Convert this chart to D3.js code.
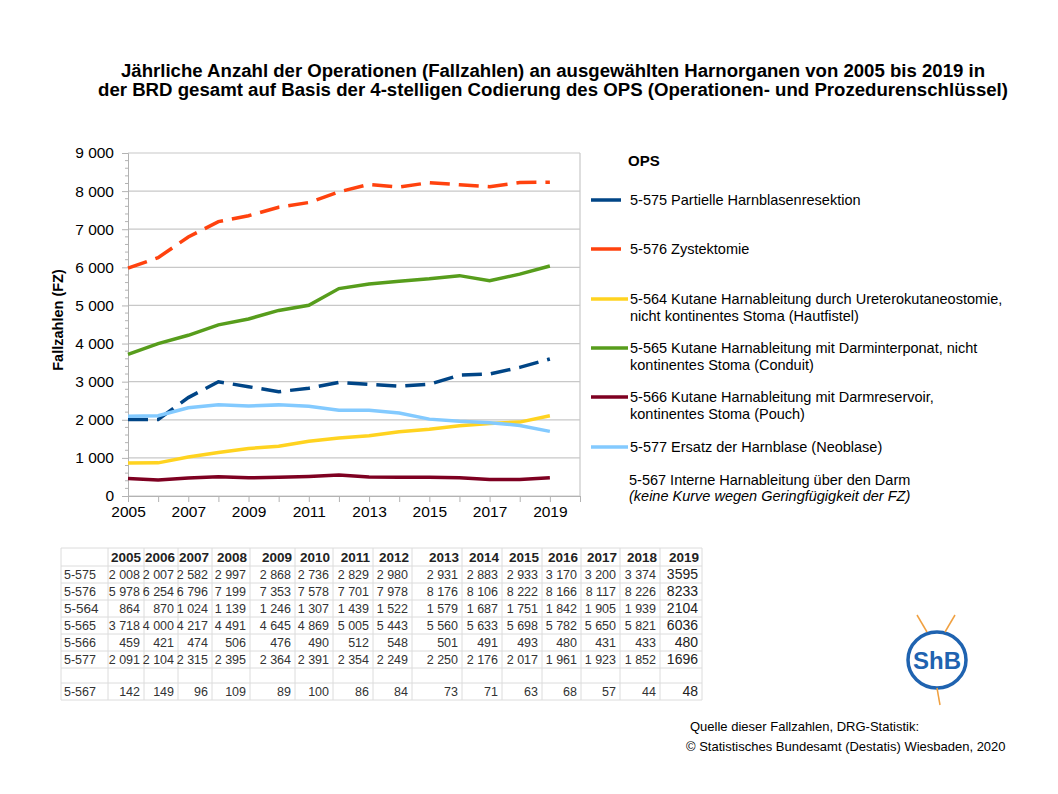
<!DOCTYPE html>
<html><head><meta charset="utf-8">
<script src="https://cdn.jsdelivr.net/npm/d3@7"></script>
<style>
html,body{margin:0;padding:0;background:#fff;}
text{font-family:"Liberation Sans",Arial,sans-serif;}
</style></head>
<body>
<svg id="c" width="1058" height="794"></svg>
<script>
const years = [2005,2006,2007,2008,2009,2010,2011,2012,2013,2014,2015,2016,2017,2018,2019];
const codes = ["5-575","5-576","5-564","5-565","5-566","5-577"];
const v5575 = [2008,2007,2582,2997,2868,2736,2829,2980,2931,2883,2933,3170,3200,3374,3595];
const v5576 = [5978,6254,6796,7199,7353,7578,7701,7978,8176,8106,8222,8166,8117,8226,8233];
const v5564 = [864,870,1024,1139,1246,1307,1439,1522,1579,1687,1751,1842,1905,1939,2104];
const v5565 = [3718,4000,4217,4491,4645,4869,5005,5443,5560,5633,5698,5782,5650,5821,6036];
const v5566 = [459,421,474,506,476,490,512,548,501,491,493,480,431,433,480];
const v5577 = [2091,2104,2315,2395,2364,2391,2354,2249,2250,2176,2017,1961,1923,1852,1696];
const v5567 = [142,149,96,109,89,100,86,84,73,71,63,68,57,44,48];
const legendLabels = [
  ["5-575 Partielle Harnblasenresektion"],
  ["5-576 Zystektomie"],
  ["5-564 Kutane Harnableitung durch Ureterokutaneostomie,","nicht kontinentes Stoma (Hautfistel)"],
  ["5-565 Kutane Harnableitung mit Darminterponat, nicht","kontinentes Stoma (Conduit)"],
  ["5-566 Kutane Harnableitung mit Darmreservoir,","kontinentes Stoma (Pouch)"],
  ["5-577 Ersatz der Harnblase (Neoblase)"]
];
const yTicks = [0,1000,2000,3000,4000,5000,6000,7000,8000,9000];
const xTickLabels = [2005,2007,2009,2011,2013,2015,2017,2019];

const seriesVals = [v5575,v5576,v5564,v5565,v5566,v5577];
const colors = ["#004586","#ff420e","#ffd320","#579d1c","#7e0021","#83caff"];
const dashed = [true,true,false,false,false,false];

const svg = d3.select("#c");
const fmtSp = v => d3.format(",")(v).replace(/,/g," ");

// Title
const title = [
  ["Jährliche Anzahl der Operationen (Fallzahlen) an ausgewählten Harnorganen von 2005 bis 2019 in", 553, 77, 864],
  ["der BRD gesamt auf Basis der 4-stelligen Codierung des OPS (Operationen- und Prozedurenschlüssel)", 553, 96, 910]
];
title.forEach(t => svg.append("text").attr("x",t[1]).attr("y",t[2]).attr("text-anchor","middle")
  .attr("font-size",18).attr("font-weight","bold").attr("textLength",t[3]).attr("lengthAdjust","spacingAndGlyphs").text(t[0]));

// Scales
const x = d3.scaleLinear().domain([2005,2020]).range([128,580]);
const y = d3.scaleLinear().domain([0,9000]).range([496,153]);

// Grid
const g = svg.append("g");
g.selectAll(".grid").data(yTicks).join("line")
  .attr("x1",128).attr("x2",580).attr("y1",d=>y(d)).attr("y2",d=>y(d))
  .attr("stroke","#c8c8c8").attr("stroke-width",1.2);
g.append("line").attr("x1",580).attr("x2",580).attr("y1",153).attr("y2",496).attr("stroke","#c8c8c8").attr("stroke-width",1.2);

// Y axis
const yAxis = d3.axisLeft(y).tickValues(yTicks).tickSize(6).tickPadding(8).tickFormat(fmtSp);
const ya = svg.append("g").attr("transform","translate(128,0)").call(yAxis);
ya.selectAll("text").attr("font-size",15.5).attr("fill","#000").style("font-family","'Liberation Sans',Arial,sans-serif");
ya.selectAll("line,path").attr("stroke","#b3b3b3");
const minor = d3.range(0,9001,200).filter(v=>v%1000!==0);
svg.append("g").selectAll("line").data(minor).join("line")
  .attr("x1",125).attr("x2",128).attr("y1",d=>y(d)).attr("y2",d=>y(d)).attr("stroke","#b3b3b3");

// X axis
const xAxis = d3.axisBottom(x).tickValues(d3.range(2005,2021)).tickSize(6).tickPadding(4)
  .tickFormat(d => xTickLabels.includes(d) ? String(d) : "");
const xa = svg.append("g").attr("transform","translate(0,496)").call(xAxis);
xa.selectAll("text").attr("font-size",15.5).attr("fill","#000").style("font-family","'Liberation Sans',Arial,sans-serif");
xa.selectAll("line,path").attr("stroke","#b3b3b3");

// Y label
svg.append("text").attr("transform","translate(63,320) rotate(-90)").attr("text-anchor","middle")
  .attr("font-size",14.5).attr("font-weight","bold").text("Fallzahlen (FZ)");

// Lines
const line = d3.line().x((d,i)=>x(years[i])).y(d=>y(d));
seriesVals.forEach((vals,k)=>{
  svg.append("path").datum(vals).attr("d",line).attr("fill","none")
    .attr("stroke",colors[k]).attr("stroke-width",3.5)
    .attr("stroke-dasharray",dashed[k]?"20,9":null);
});

// Legend
svg.append("text").attr("x",628).attr("y",166).attr("font-size",15).attr("font-weight","bold").text("OPS");
const legY = [200,249,299,348,397,447];
legendLabels.forEach((lines,k)=>{
  const lw = lines.length>1 || k===5 ? 37 : 30;
  svg.append("line").attr("x1",591).attr("x2",591+lw).attr("y1",legY[k]).attr("y2",legY[k])
    .attr("stroke",colors[k]).attr("stroke-width",3.5);
  lines.forEach((t,j)=>svg.append("text").attr("x",630).attr("y",legY[k]+5+j*17).attr("font-size",14.5).text(t));
});
svg.append("text").attr("x",629).attr("y",485).attr("font-size",14.5).text("5-567 Interne Harnableitung über den Darm");
svg.append("text").attr("x",629).attr("y",501).attr("font-size",14.5).attr("font-style","italic").text("(keine Kurve wegen Geringfügigkeit der FZ)");

// Table
const colEdges = [61,108,144,178,212,250,295,333,373,412,462,502,542,581,620,660,702];
const rowEdges = [548,566,583,600,617,634,651,668,683,700];
const tg = svg.append("g");
rowEdges.forEach(r=>tg.append("line").attr("x1",61).attr("x2",702).attr("y1",r).attr("y2",r).attr("stroke","#dcdcdc"));
colEdges.forEach(c=>tg.append("line").attr("x1",c).attr("x2",c).attr("y1",548).attr("y2",700).attr("stroke","#dcdcdc"));
years.forEach((yr,i)=>{
  tg.append("text").attr("x",colEdges[i+2]-3).attr("y",562).attr("text-anchor","end")
    .attr("font-size",13.5).attr("font-weight","bold").attr("fill","#222").text(yr);
});
const tableRows = codes.map((c,k)=>[c,seriesVals[k],rowEdges[k+1]]).concat([["5-567",v5567,rowEdges[8]]]);
tableRows.forEach(([code,vals,top])=>{
  const ty = top+13;
  tg.append("text").attr("x",64).attr("y",ty).attr("font-size",code==="5-564"?13.5:12.5).attr("fill","#333").text(code);
  vals.forEach((v,i)=>{
    const last = i===vals.length-1;
    tg.append("text").attr("x",colEdges[i+2]-4).attr("y",ty).attr("text-anchor","end")
      .attr("font-size",last?14:12.5).attr("fill",last?"#222":"#333").text(last?String(v):fmtSp(v));
  });
});

// Logo
const lg = svg.append("g").attr("transform","translate(937,660)");
lg.append("ellipse").attr("rx",29).attr("ry",28).attr("fill","none").attr("stroke","#1f63b0").attr("stroke-width",3.5);
lg.append("text").attr("text-anchor","middle").attr("y",9).attr("font-size",24).attr("font-weight","bold").attr("fill","#1f63b0").text("ShB");
[[-20,-45,-10,-28],[18,-45,8,-28],[0,28,3,45]].forEach(p=>
  lg.append("line").attr("x1",p[0]).attr("y1",p[1]).attr("x2",p[2]).attr("y2",p[3]).attr("stroke","#f0a040").attr("stroke-width",1.5));

// Source
svg.append("text").attr("x",690).attr("y",731).attr("font-size",13).text("Quelle dieser Fallzahlen, DRG-Statistik:");
svg.append("text").attr("x",686).attr("y",751).attr("font-size",13).text("© Statistisches Bundesamt (Destatis) Wiesbaden, 2020");
</script>
</body></html>
